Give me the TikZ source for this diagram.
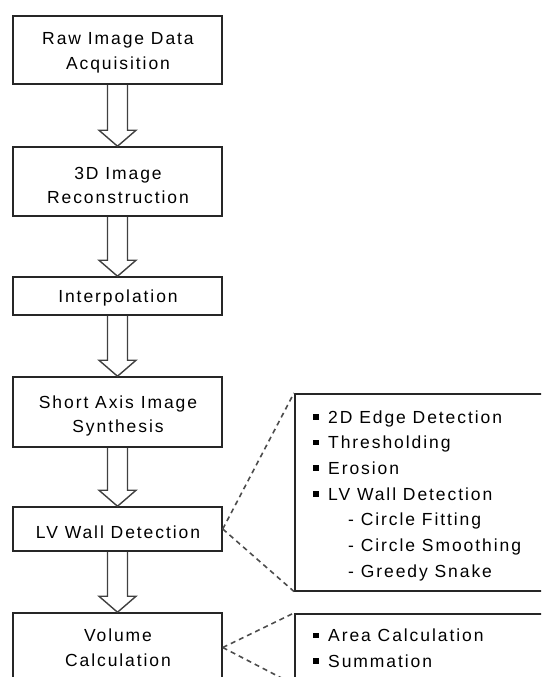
\documentclass[tikz,border=0pt]{standalone}
\usepackage{fontspec}
\setmainfont{Liberation Sans}[LetterSpace=11]
\usetikzlibrary{calc}

% small filled square used as list bullet
\newcommand\sqbul{\rule[3.5pt]{5.5pt}{5.5pt}\hspace{9.5pt}}
% hollow block arrow from the bottom of one stage to the top of the next
\newcommand\stagearrow[2]{%
  \draw[hollow]
    ([xshift=-10pt]#1.south) -- ([xshift=-10pt,yshift=16pt]#2.north)
    -- ([xshift=-18.5pt,yshift=16pt]#2.north) -- (#2.north)
    -- ([xshift=18.5pt,yshift=16pt]#2.north) -- ([xshift=10pt,yshift=16pt]#2.north)
    -- ([xshift=10pt]#1.south);}

\tikzset{
  stage/.style={draw=black!85, line width=1.5pt, minimum width=209pt, inner sep=0pt},
  stagetext/.style={align=center, inner sep=0pt, font=\fontsize{17.5}{24.5}\selectfont},
  hollow/.style={draw=black!75, line width=1.4pt, line join=miter},
  detail/.style={draw=black!85, line width=1.5pt, anchor=north west, inner sep=0pt, minimum width=270pt},
  detailtext/.style={align=left, anchor=north west, inner sep=0pt, font=\fontsize{17.5}{25.7}\selectfont},
  link/.style={draw=black!70, line width=1.6pt, dash pattern=on 5pt off 4pt},
}

\begin{document}
\begin{tikzpicture}[x=1pt, y=-1pt]
  \useasboundingbox (0,0) rectangle (541,677);
  \clip (0,0) rectangle (541,677);

  % processing stages
  \node[stage, minimum height=68pt] (b1) at (117.5,50) {};
  \node[stage, minimum height=69pt] (b2) at (117.5,181.5) {};
  \node[stage, minimum height=38pt] (b3) at (117.5,296) {};
  \node[stage, minimum height=70pt] (b4) at (117.5,412) {};
  \node[stage, minimum height=44pt] (b5) at (117.5,529) {};
  \node[stage, minimum height=69pt] (b6) at (117.5,647.5) {};

  \node[stagetext] (t1) at (118,52.8) {Raw Image Data\\Acquisition};
  \node[stagetext] (t2) at (118,185.5) {3D Image\\Reconstruction};
  \node[stagetext] (t3) at (118,297.8) {Interpolation};
  \node[stagetext] (t4) at (118,415.8) {Short Axis Image\\Synthesis};
  \node[stagetext] (t5) at (118,532.5) {LV Wall Detection};
  \node[stagetext] (t6) at (118,647.5) {Volume\\Calculation};

  % flow arrows
  \stagearrow{b1}{b2}
  \stagearrow{b2}{b3}
  \stagearrow{b3}{b4}
  \stagearrow{b4}{b5}
  \stagearrow{b5}{b6}

  % detail panels
  \node[detail, minimum height=197pt] (r1) at (294,393) {};
  \node[detail, minimum height=70pt] (r2) at (294,613) {};

  \node[detailtext] (r1t) at (313,410.2) {%
    \sqbul 2D Edge Detection\\
    \sqbul Thresholding\\
    \sqbul Erosion\\
    \sqbul LV Wall Detection\\
    \hspace*{35pt}- Circle Fitting\\
    \hspace*{35pt}- Circle Smoothing\\
    \hspace*{35pt}- Greedy Snake};
  \node[detailtext] (r2t) at (313,628.9) {%
    \sqbul Area Calculation\\
    \sqbul Summation};

  % dashed call-outs
  \draw[link] (b5.east) -- (r1.north west);
  \draw[link] (b5.east) -- (r1.south west);
  \draw[link] (b6.east) -- (r2.north west);
  \draw[link] (b6.east) -- (r2.south west);
\end{tikzpicture}
\end{document}
